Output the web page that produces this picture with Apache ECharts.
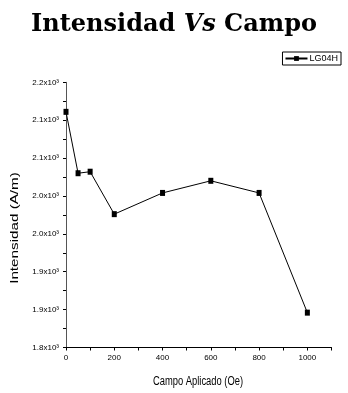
<!DOCTYPE html>
<html>
<head>
<meta charset="utf-8">
<script src="https://cdn.jsdelivr.net/npm/echarts@6/dist/echarts.min.js"></script>
<style>
html,body{margin:0;padding:0;background:#fff;}
#chart{width:348px;height:393px;}
</style>
</head>
<body>
<div id="chart"></div>
<script>
const seriesName = 'LG04H';
const campo = [0, 50, 100, 200, 400, 600, 800, 1000];
const intensidad = [2111, 2030, 2032, 1976, 2004, 2020, 2004, 1846];
const titleParts = ['Intensidad ', 'Vs', ' Campo'];
const xName = 'Campo Aplicado (Oe)';
const yName = 'Intensidad (A/m)';

const chart = echarts.init(document.getElementById('chart'), null, {renderer: 'canvas'});
const option = {
  backgroundColor: '#fff',
  animation: false,
  title: {
    text: '{a|' + titleParts[0] + '}{b|' + titleParts[1] + '}{a|' + titleParts[2] + '}',
    left: 'center',
    top: 8,
    textStyle: {
      rich: {
        a: {fontFamily: 'DejaVu Serif', fontWeight: 'bold', fontSize: 24, color: '#000'},
        b: {fontFamily: 'DejaVu Serif', fontWeight: 'bold', fontStyle: 'italic', fontSize: 24, color: '#000'}
      }
    }
  },
  legend: {
    data: [seriesName],
    right: 7,
    top: 52,
    orient: 'vertical',
    borderColor: '#000',
    borderWidth: 1,
    borderRadius: 0,
    padding: [2, 3, 2, 2],
    itemWidth: 22,
    itemHeight: 6,
    itemGap: 0,
    textStyle: {fontFamily: 'Liberation Sans', fontSize: 9, color: '#000', padding: [0, 0, 0, -3]}
  },
  graphic: [
    {
      type: 'text', x: 15, y: 228, rotation: Math.PI / 2, scaleX: 1.45,
      style: {text: yName, fontFamily: 'Liberation Sans', fontSize: 10.5, fill: '#000', align: 'center', verticalAlign: 'middle'}
    },
    {
      type: 'text', x: 198, y: 381.5, scaleX: 0.78,
      style: {text: xName, fontFamily: 'Liberation Sans', fontSize: 12, fill: '#000', align: 'center', verticalAlign: 'middle'}
    }
  ],
  grid: {left: 66, right: 16.5, top: 82.3, bottom: 45.5, containLabel: false},
  xAxis: {
    type: 'value',
    min: 0,
    max: 1100,
    interval: 100,
    axisLine: {show: true, onZero: false, lineStyle: {color: '#000', width: 1}},
    axisTick: {show: true, length: 3, lineStyle: {color: '#000'}},
    axisLabel: {
      fontFamily: 'Liberation Sans', fontSize: 8, color: '#000', margin: 6,
      formatter: v => (v % 200 === 0 && v <= 1000) ? String(v) : ''
    },
    splitLine: {show: false}
  },
  yAxis: {
    type: 'value',
    min: 1800,
    max: 2150,
    interval: 50,
    axisLine: {show: true, onZero: false, lineStyle: {color: '#555', width: 1}},
    axisTick: {show: true, length: 3, lineStyle: {color: '#000'}},
    minorTick: {show: true, splitNumber: 2, length: 3, lineStyle: {color: '#000'}},
    axisLabel: {
      fontFamily: 'Liberation Sans', fontSize: 8, color: '#000', margin: 7,
      formatter: v => (Math.round(v / 100) / 10).toFixed(1) + 'x10\u00B3'
    },
    splitLine: {show: false}
  },
  series: [{
    name: seriesName,
    type: 'line',
    data: campo.map((c, i) => [c, intensidad[i]]),
    symbol: 'rect',
    symbolSize: [5, 6],
    itemStyle: {color: '#000'},
    lineStyle: {color: '#000', width: 1},
    clip: false
  }]
};
chart.setOption(option);
</script>
</body>
</html>
